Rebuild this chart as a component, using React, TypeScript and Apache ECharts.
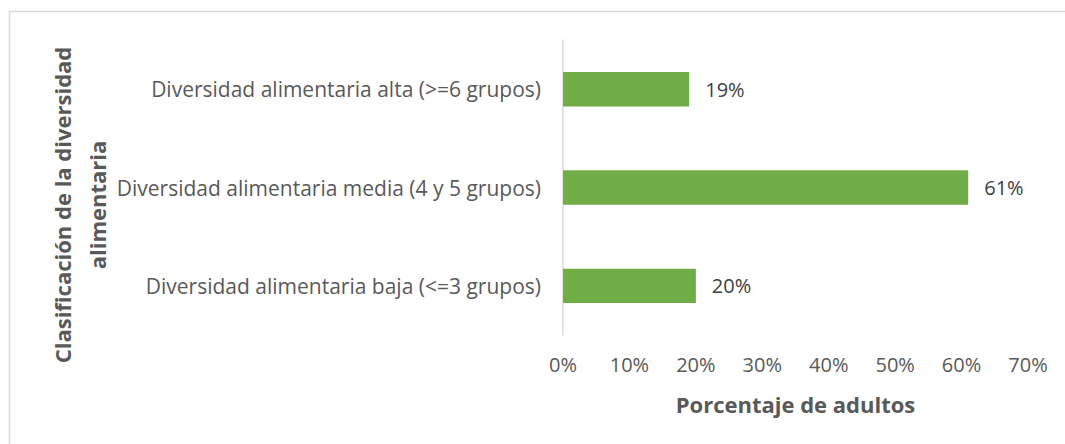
import React, { useEffect, useRef } from "react";
import * as echarts from "echarts";

const categories = [
  "Diversidad alimentaria baja (<=3 grupos)",
  "Diversidad alimentaria media (4 y 5 grupos)",
  "Diversidad alimentaria alta (>=6 grupos)",
];
const values = [20, 61, 19];
const xTicks = [0, 10, 20, 30, 40, 50, 60, 70];

const FONT = "'Open Sans', sans-serif";
const TEXT = "#595959";

export default function App() {
  const ref = useRef<HTMLDivElement>(null);
  useEffect(() => {
    if (!ref.current) return;
    const chart = echarts.init(ref.current, null, { renderer: "svg" });
    chart.setOption({
      animation: false,
      backgroundColor: "#ffffff",
      textStyle: { fontFamily: FONT },
      graphic: [
        {
          type: "polyline",
          shape: { points: [[9.5, 500], [9.5, 11.5], [1100, 11.5]] },
          style: { stroke: "#D9D9D9", lineWidth: 1.5, fill: null },
        },
        {
          type: "text",
          x: 79,
          y: 205,
          rotation: Math.PI / 2,
          style: {
            text: "Clasificación de la diversidad\nalimentaria",
            font: `bold 22px ${FONT}`,
            fill: TEXT,
            align: "center",
            verticalAlign: "middle",
            lineHeight: 35,
          },
        },
      ],
      grid: { left: 563, right: 37, top: 40, bottom: 109, containLabel: false },
      xAxis: {
        type: "value",
        min: xTicks[0],
        max: xTicks[xTicks.length - 1],
        interval: 10,
        axisLine: { show: false },
        axisTick: { show: false },
        splitLine: { show: false },
        axisLabel: {
          formatter: (v: number) => `${v}%`,
          color: TEXT,
          fontSize: 20,
          fontFamily: FONT,
          margin: 19,
        },
        name: "Porcentaje de adultos",
        nameLocation: "middle",
        nameGap: 58,
        nameTextStyle: { color: TEXT, fontSize: 22, fontWeight: "bold", fontFamily: FONT },
      },
      yAxis: {
        type: "category",
        data: categories,
        axisLine: { show: true, lineStyle: { color: "#D9D9D9", width: 1.5 } },
        axisTick: { show: false },
        axisLabel: { color: TEXT, fontSize: 21, fontFamily: FONT, margin: 22 },
      },
      series: [
        {
          type: "bar",
          data: values,
          barCategoryGap: "65%",
          itemStyle: { color: "#70AD47" },
          label: {
            show: true,
            position: "right",
            distance: 16,
            formatter: (p: any) => `${p.value}%`,
            color: "#404040",
            fontSize: 20,
            fontFamily: FONT,
          },
        },
      ],
    });
    return () => chart.dispose();
  }, []);
  return (
    <div
      ref={ref}
      style={{ position: "fixed", left: 0, top: 0, width: 1065, height: 444 }}
    />
  );
}
